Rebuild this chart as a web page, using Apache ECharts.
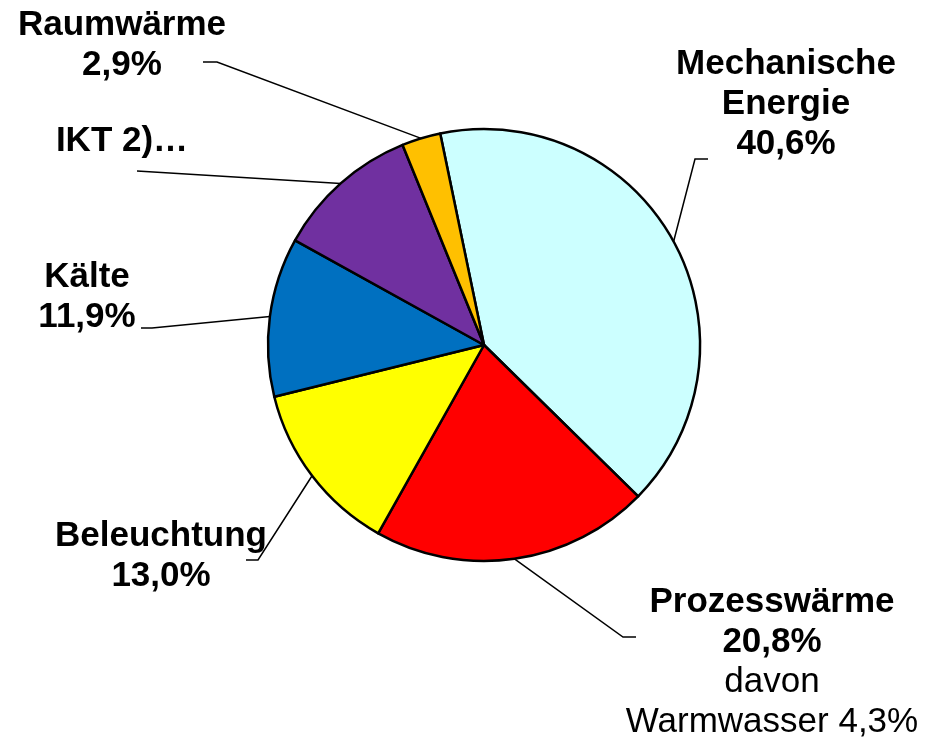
<!DOCTYPE html>
<html>
<head>
<meta charset="utf-8">
<title>Stromverbrauch nach Anwendungen</title>
<script src="https://cdn.jsdelivr.net/npm/echarts@6/dist/echarts.min.js"></script>
<style>
  html, body { margin: 0; padding: 0; background: #fff; }
  #main { width: 931px; height: 740px; }
</style>
</head>
<body>
<div id="main"></div>
<script>
// data, clockwise from the top
var names = ['Mechanische Energie', 'Prozesswärme', 'Beleuchtung', 'Kälte', 'IKT 2)…', 'Raumwärme'];
var values = [40.6, 20.8, 13.0, 11.9, 10.8, 2.9];
var labelNames = ['Mechanische\nEnergie', 'Prozesswärme', 'Beleuchtung', 'Kälte', 'IKT 2)…', 'Raumwärme'];
var showPercent = [true, true, true, true, false, true];
var notes = ['', 'davon\nWarmwasser 4,3%', '', '', '', ''];
var colors = ['#CCFFFF', '#FF0000', '#FFFF00', '#0070C0', '#7030A0', '#FFC000'];

// label block centres and the two end points of each leader line (layout only)
var labelPos = [[786, 104], [772, 662], [161, 556], [87, 297], [122, 141], [122, 45]];
var lineEnds = [
  [[695, 159], [708, 159]],
  [[623, 637], [636, 637]],
  [[258, 560], [246, 560]],
  [[152, 328], [141, 328]],
  [[137, 171], [137, 171]],
  [[217, 62], [203, 62]]
];

function fmtPct(v) { //german decimal comma
  return v.toFixed(1).replace('.', ',') + '%';
}

var chart = echarts.init(document.getElementById('main'), null, { renderer: 'canvas' });

var pieData = names.map(function (n, i) {
  return { name: n, value: values[i], itemStyle: { color: colors[i] } };
});

chart.setOption({
  animation: false,
  backgroundColor: '#ffffff',
  series: [{
    type: 'pie',
    center: [484, 345],
    radius: 216,
    startAngle: 101.7,
    clockwise: true,
    avoidLabelOverlap: false,
    data: pieData,
    itemStyle: { borderColor: '#000', borderWidth: 2.5 },
    emphasis: { disabled: true },
    label: {
      show: true,
      position: 'outside',
      color: '#000',
      formatter: function (p) {
        var i = p.dataIndex;
        var lines = labelNames[i].split('\n').map(function (s) { return '{b|' + s + '}'; });
        if (showPercent[i]) lines.push('{b|' + fmtPct(values[i]) + '}');
        if (notes[i]) {
          notes[i].split('\n').forEach(function (s) { lines.push('{n|' + s + '}'); });
        }
        return lines.join('\n');
      },
      rich: {
        b: { fontFamily: 'Liberation Sans', fontWeight: 'bold', fontSize: 35, lineHeight: 40, color: '#000', align: 'center' },
        n: { fontFamily: 'Liberation Sans', fontWeight: 'normal', fontSize: 35, lineHeight: 40, color: '#000', align: 'center' }
      }
    },
    labelLine: {
      show: true,
      length: 20,
      length2: 10,
      lineStyle: { color: '#000', width: 1.5 }
    },
    labelLayout: function (params) {
      var i = params.dataIndex;
      var edge = params.labelLinePoints ? params.labelLinePoints[0] : lineEnds[i][0];
      return {
        x: labelPos[i][0],
        y: labelPos[i][1],
        align: 'center',
        verticalAlign: 'middle',
        labelLinePoints: [edge, lineEnds[i][0], lineEnds[i][1]]
      };
    }
  }]
});
</script>
</body>
</html>
